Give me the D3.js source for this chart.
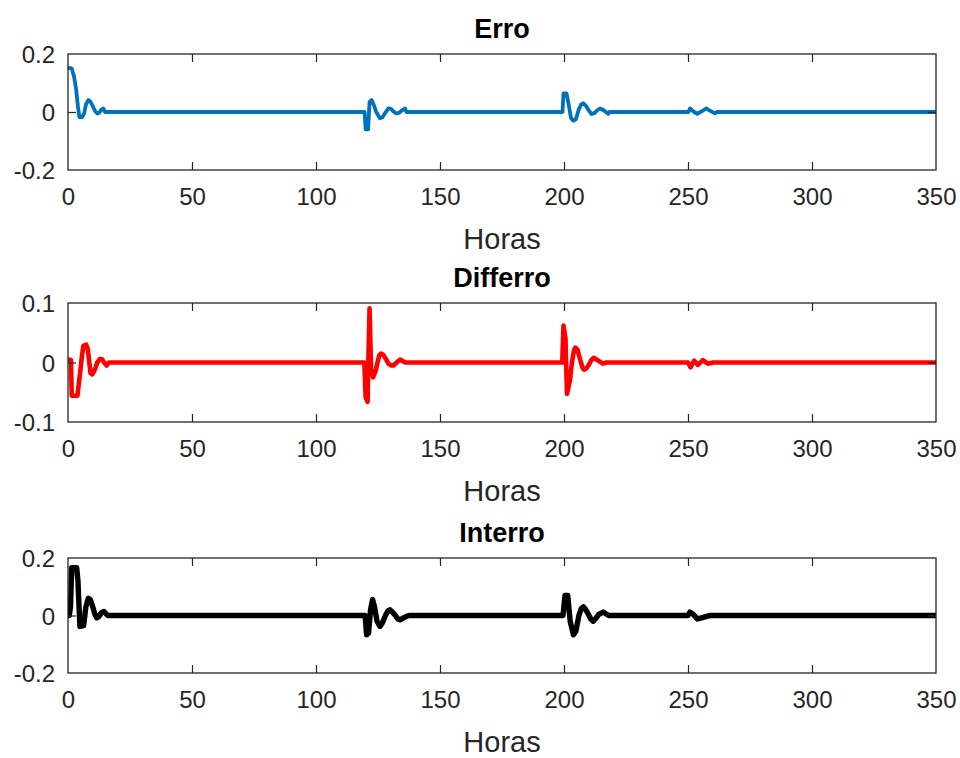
<!DOCTYPE html>
<html>
<head>
<meta charset="utf-8">
<script src="https://cdn.jsdelivr.net/npm/d3@7"></script>
<style>
  html, body { margin: 0; padding: 0; background: #fff; }
  svg { display: block; }
  text { font-family: "Liberation Sans", Arial, Helvetica, sans-serif; }
</style>
</head>
<body>
<svg id="chart" width="960" height="758"></svg>
<script>
// Error signals (hours vs. value). Flat stretches at zero are given by their end points.
const erroHours  = [0, 1.5, 2.5, 3.3, 4.0, 4.6, 5.6, 6.5, 7.3, 8.2, 9.0, 10.0, 11.0, 11.8, 12.6, 13.4, 14.2, 15.0,
                    119.6, 120.0, 121.0, 121.6, 122.4, 123.3, 124.3, 125.8, 126.8, 128.0, 129.2, 130.2, 131.2, 132.4, 133.5, 134.5, 135.9, 136.5,
                    199.4, 199.8, 201.0, 201.8, 202.8, 203.7, 204.8, 206.0, 207.0, 207.8, 208.8, 210.0, 211.1, 212.3, 213.4, 214.5, 215.6, 216.6, 217.8, 218.2,
                    250.2, 250.8, 252.5, 253.7, 255.5, 257.3, 259.0, 260.9, 261.5, 350];
const erroValues = [0.152, 0.15, 0.12, 0.076, 0.02, -0.018, -0.018, -0.005, 0.028, 0.041, 0.036, 0.02, 0.002, -0.005, -0.003, 0.008, 0.012, 0,
                    0, -0.06, -0.06, 0.035, 0.041, 0.025, 0.0, -0.022, -0.018, -0.002, 0.013, 0.011, 0.002, -0.005, -0.003, 0.005, 0.012, 0,
                    0, 0.064, 0.064, 0.03, -0.02, -0.03, -0.025, 0.01, 0.027, 0.03, 0.022, 0.005, -0.007, -0.004, 0.006, 0.012, 0.008, 0.002, -0.006, 0,
                    0, 0.012, 0.0, -0.006, 0.002, 0.012, 0.004, -0.005, 0, 0];

const differroHours  = [0, 1.2, 1.5, 3.8, 4.8, 5.6, 6.2, 7.3, 8.0, 8.6, 9.1, 9.8, 10.8, 11.8, 12.9, 13.8, 14.6, 15.6, 16.5,
                        119.5, 120.0, 120.8, 121.2, 121.6, 122.2, 123.0, 124.0, 124.8, 125.5, 126.2, 127.1, 128.2, 129.2, 130.2, 131.2, 132.5, 133.9, 136.0,
                        199.3, 199.8, 200.6, 201.2, 202.4, 203.2, 204.0, 204.6, 205.4, 206.5, 207.4, 208.0, 209.0, 210.0, 211.0, 212.0, 213.5, 215.7, 217.0,
                        250.0, 251.0, 252.5, 254.0, 256.0, 258.0, 260.0, 350];
const differroValues = [0.005, 0.004, -0.056, -0.056, -0.02, 0.01, 0.028, 0.03, 0.022, 0.0, -0.018, -0.02, -0.012, 0.0, 0.006, 0.005, 0.0, -0.005, 0,
                        0, -0.058, -0.066, 0.02, 0.091, -0.01, -0.025, -0.015, 0.0, 0.012, 0.015, 0.013, 0.006, -0.002, -0.005, -0.005, 0.0, 0.005, 0,
                        0, 0.062, 0.04, -0.053, -0.03, 0.0, 0.02, 0.025, 0.022, 0.005, -0.008, -0.012, -0.01, -0.004, 0.004, 0.008, 0.004, -0.002, 0,
                        0, -0.008, 0.003, -0.004, 0.004, -0.002, 0, 0];

const interroHours  = [0, 0.5, 1.0, 1.5, 3.5, 4.0, 4.8, 6.3, 7.2, 8.2, 9.0, 10.0, 10.8, 11.6, 12.4, 13.5, 14.5, 16.0,
                       119.8, 120.4, 121.2, 122.0, 122.8, 123.6, 124.6, 125.8, 126.8, 128.0, 129.0, 129.8, 131.0, 132.0, 133.0, 133.9, 135.3, 136.7, 137.5,
                       199.6, 200.4, 201.5, 202.5, 203.8, 204.8, 206.0, 207.0, 207.8, 208.8, 209.8, 210.8, 211.8, 213.0, 214.0, 215.8, 218.0,
                       250.0, 250.8, 252.0, 253.8, 255.5, 257.5, 259.0, 350];
const interroValues = [0.03, 0.0, 0.03, 0.166, 0.166, 0.122, -0.038, -0.035, 0.03, 0.06, 0.055, 0.03, 0.005, -0.008, -0.004, 0.01, 0.014, 0,
                       0, -0.067, -0.06, 0.02, 0.056, 0.03, -0.02, -0.038, -0.025, 0.0, 0.016, 0.02, 0.01, 0.0, -0.012, -0.015, -0.008, -0.002, 0,
                       0, 0.07, 0.07, -0.02, -0.067, -0.055, 0.0, 0.025, 0.03, 0.02, 0.005, -0.012, -0.02, -0.008, 0.004, 0.012, 0,
                       0, 0.012, 0.005, -0.012, -0.008, -0.003, 0, 0];

const panelTitles = ["Erro", "Differro", "Interro"];
const xLabel = "Horas";
const xTicks = [0, 50, 100, 150, 200, 250, 300, 350];
const yTicksErro = [-0.2, 0, 0.2];
const yTicksDiff = [-0.1, 0, 0.1];
const yTicksInter = [-0.2, 0, 0.2];

const panels = [
  { title: panelTitles[0], hours: erroHours, values: erroValues, yDomain: [-0.2, 0.2], yTicks: yTicksErro, color: "#0072BD", width: 3.8, top: 54, bottom: 170 },
  { title: panelTitles[1], hours: differroHours, values: differroValues, yDomain: [-0.1, 0.1], yTicks: yTicksDiff, color: "#FF0000", width: 4.6, top: 303, bottom: 422 },
  { title: panelTitles[2], hours: interroHours, values: interroValues, yDomain: [-0.2, 0.2], yTicks: yTicksInter, color: "#000000", width: 5.4, top: 558, bottom: 673 }
];

const svg = d3.select("#chart");
const left = 68, right = 936;
const axisColor = "#262626";
const tickLen = 8;

const x = d3.scaleLinear().domain([0, 350]).range([left, right]);
const fmt = d => (d === 0 ? "0" : d3.format(".1f")(d)).replace("−", "-");

panels.forEach(p => {
  const y = d3.scaleLinear().domain(p.yDomain).range([p.bottom, p.top]);
  const g = svg.append("g");

  // data trace, clipped to the axes box
  const clipId = "clip-" + p.title;
  svg.append("clipPath").attr("id", clipId)
    .append("rect").attr("x", left).attr("y", p.top).attr("width", right - left).attr("height", p.bottom - p.top);

  const pts = p.hours.map((h, i) => [h, p.values[i]]);
  g.append("path")
    .datum(pts)
    .attr("clip-path", `url(#${clipId})`)
    .attr("fill", "none")
    .attr("stroke", p.color)
    .attr("stroke-width", p.width)
    .attr("stroke-linejoin", "round")
    .attr("d", d3.line().x(d => x(d[0])).y(d => y(d[1])));

  // bottom axis with inward ticks, labels below
  const xb = d3.axisBottom(x).tickValues(xTicks).tickSize(-tickLen).tickPadding(18).tickFormat(d3.format("d"));
  const gx = g.append("g").attr("transform", `translate(0,${p.bottom})`).call(xb);
  // top axis mirrored ticks
  const gxt = g.append("g").attr("transform", `translate(0,${p.top})`).call(d3.axisTop(x).tickValues(xTicks).tickSize(-tickLen).tickFormat(""));
  // left axis
  const yl = d3.axisLeft(y).tickValues(p.yTicks).tickSize(-tickLen).tickPadding(13).tickFormat(fmt);
  const gy = g.append("g").attr("transform", `translate(${left},0)`).call(yl);
  const gyr = g.append("g").attr("transform", `translate(${right},0)`).call(d3.axisRight(y).tickValues(p.yTicks).tickSize(-tickLen).tickFormat(""));

  [gx, gxt, gy, gyr].forEach(a => {
    a.select(".domain").remove();
    a.selectAll(".tick line").attr("stroke", axisColor).attr("stroke-width", 1.2);
    a.selectAll(".tick text").attr("fill", axisColor).attr("font-size", 24).attr("font-family", "Liberation Sans, Arial, sans-serif");
  });
  // drop end ticks that would coincide with the box edges
  gx.selectAll(".tick line").filter(d => d === 0 || d === 350).remove();
  gxt.selectAll(".tick line").filter(d => d === 0 || d === 350).remove();
  gy.selectAll(".tick line").filter(d => d !== 0).remove();
  gyr.selectAll(".tick line").filter(d => d !== 0).remove();
  gy.selectAll(".tick text").attr("dy", "0.36em");

  // axes box
  g.append("rect")
    .attr("x", left).attr("y", p.top)
    .attr("width", right - left).attr("height", p.bottom - p.top)
    .attr("fill", "none").attr("stroke", axisColor).attr("stroke-width", 1.3);

  // title
  g.append("text")
    .attr("x", (left + right) / 2).attr("y", p.top - 16)
    .attr("text-anchor", "middle")
    .attr("font-size", 27).attr("font-weight", "bold").attr("fill", "#000")
    .text(p.title);

  // x-axis label
  g.append("text")
    .attr("x", (left + right) / 2).attr("y", p.bottom + 79)
    .attr("text-anchor", "middle")
    .attr("font-size", 29).attr("fill", axisColor)
    .text(xLabel);
});
</script>
</body>
</html>
